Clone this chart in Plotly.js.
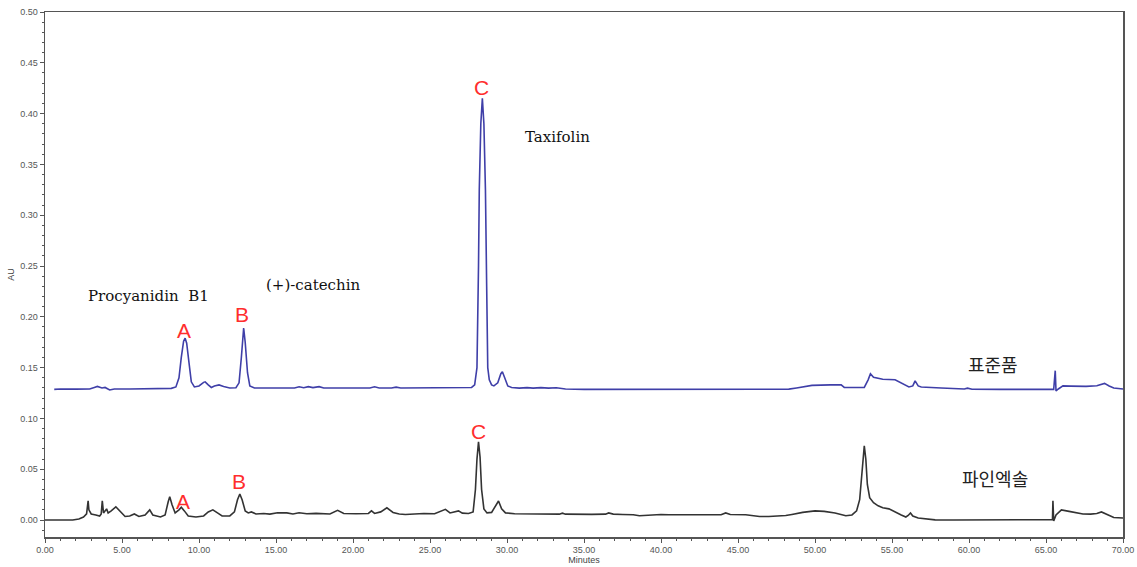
<!DOCTYPE html>
<html>
<head>
<meta charset="utf-8">
<script src="https://cdn.plot.ly/plotly-3.0.1.min.js"></script>
<style>
html,body{margin:0;padding:0;background:#fff;}
#chart{width:1137px;height:567px;}
</style>
</head>
<body>
<div id="chart"></div>
<script>
// 표준품 (standard) chromatogram: retention time (min) and absorbance (AU)
const stdTime = [0.6,1.0,2.0,2.9,3.2,3.4,3.7,3.9,4.2,4.5,5.5,6.5,7.5,8.2,8.5,8.7,8.85,9.0,9.1,9.2,9.35,9.5,9.7,10.0,10.3,10.4,10.6,10.8,11.0,11.3,11.6,12.0,12.4,12.6,12.75,12.9,13.0,13.15,13.3,13.6,14.5,15.5,16.2,16.5,16.8,17.1,17.4,17.8,18.1,19.0,20.0,21.1,21.4,21.7,22.5,22.8,23.1,24.5,25.5,26.5,27.3,27.7,27.9,28.05,28.15,28.2,28.3,28.4,28.5,28.6,28.68,28.75,28.85,29.0,29.15,29.4,29.6,29.7,29.85,30.05,30.3,30.8,31.3,31.7,32.2,32.7,33.2,33.8,35,40,45,48.3,48.8,49.3,49.8,51.0,51.7,51.9,53.2,53.45,53.6,53.8,54.4,55.2,55.6,56.1,56.35,56.5,56.7,56.9,58.2,59.7,59.9,60.2,62,65.5,65.6,65.65,65.8,66.1,66.6,67.6,68.3,68.8,69.1,69.4,70.0];
const stdAU = [0.1286,0.1290,0.1288,0.1290,0.1305,0.1315,0.1300,0.1305,0.1280,0.1290,0.1290,0.1292,0.1293,0.1296,0.1310,0.1400,0.1600,0.1760,0.1790,0.1740,0.1550,0.1360,0.1310,0.1320,0.1355,0.1360,0.1330,0.1305,0.1320,0.1330,0.1315,0.1300,0.1302,0.1350,0.1600,0.1890,0.1750,0.1450,0.1320,0.1300,0.1300,0.1302,0.1300,0.1312,0.1302,0.1313,0.1303,0.1313,0.1300,0.1300,0.1300,0.1300,0.1312,0.1300,0.1300,0.1308,0.1300,0.1300,0.1302,0.1300,0.1302,0.1305,0.1330,0.1500,0.2500,0.3250,0.3900,0.4150,0.3900,0.3250,0.2300,0.1500,0.1380,0.1330,0.1320,0.1350,0.1440,0.1460,0.1400,0.1320,0.1305,0.1298,0.1303,0.1298,0.1303,0.1298,0.1302,0.1290,0.1286,0.1286,0.1286,0.1288,0.1300,0.1310,0.1325,0.1330,0.1330,0.1305,0.1305,0.1380,0.1440,0.1405,0.1385,0.1380,0.1350,0.1310,0.1320,0.1370,0.1320,0.1310,0.1300,0.1290,0.1298,0.1287,0.1286,0.1286,0.1470,0.1270,0.1290,0.1320,0.1318,0.1315,0.1322,0.1345,0.1320,0.1300,0.1290];

// 파인엑솔 (pine extract) chromatogram
const pineTime = [0.0,1.0,1.8,2.2,2.5,2.7,2.8,2.85,3.0,3.3,3.55,3.65,3.72,3.8,3.9,4.0,4.1,4.3,4.6,4.9,5.2,5.5,5.8,6.1,6.5,6.8,7.0,7.5,7.8,8.0,8.1,8.25,8.45,8.7,8.85,9.05,9.3,9.8,10.3,10.6,10.9,11.2,11.5,12.0,12.3,12.5,12.65,12.8,13.0,13.2,13.4,13.7,14.2,14.6,15.1,15.7,16.1,16.5,17.0,17.6,18.0,18.5,19.0,19.4,20.2,21.0,21.2,21.4,21.8,22.2,22.6,23.0,23.4,24.0,24.6,25.3,25.8,26.0,26.3,26.6,26.85,27.1,27.5,27.8,27.95,28.05,28.15,28.25,28.35,28.5,28.7,29.0,29.25,29.45,29.65,29.9,30.5,31.5,32.5,33.4,33.6,33.8,35.5,36.4,36.6,36.9,37.5,38.2,38.6,39.0,39.4,40.0,40.5,41.5,43.0,43.9,44.2,44.5,45.5,46.0,46.4,47.0,47.6,48.1,48.5,49.2,50.0,50.6,51.3,51.7,52.0,52.4,52.7,52.9,53.05,53.2,53.3,53.4,53.55,53.8,54.1,54.4,54.8,55.15,55.6,55.9,56.05,56.2,56.35,56.7,57.3,57.8,59,61,63,65.3,65.42,65.45,65.5,65.65,66.0,66.5,67.0,67.4,67.9,68.3,68.6,68.9,69.4,70.0];
const pineAU = [0.0000,0.0000,0.0000,0.0010,0.0030,0.0060,0.0190,0.0100,0.0060,0.0050,0.0040,0.0060,0.0190,0.0070,0.0090,0.0110,0.0070,0.0090,0.0130,0.0080,0.0035,0.0040,0.0060,0.0035,0.0050,0.0100,0.0050,0.0030,0.0050,0.0180,0.0230,0.0150,0.0070,0.0100,0.0125,0.0090,0.0040,0.0030,0.0040,0.0080,0.0100,0.0070,0.0040,0.0040,0.0080,0.0200,0.0256,0.0200,0.0090,0.0070,0.0080,0.0060,0.0065,0.0058,0.0072,0.0070,0.0060,0.0072,0.0062,0.0066,0.0064,0.0060,0.0095,0.0065,0.0062,0.0065,0.0090,0.0065,0.0080,0.0120,0.0075,0.0060,0.0055,0.0060,0.0065,0.0062,0.0090,0.0105,0.0070,0.0085,0.0090,0.0068,0.0065,0.0080,0.0300,0.0600,0.0770,0.0620,0.0300,0.0110,0.0070,0.0075,0.0140,0.0187,0.0110,0.0070,0.0062,0.0060,0.0058,0.0058,0.0068,0.0058,0.0056,0.0058,0.0070,0.0058,0.0055,0.0052,0.0042,0.0045,0.0055,0.0055,0.0052,0.0050,0.0050,0.0052,0.0070,0.0055,0.0052,0.0040,0.0035,0.0035,0.0040,0.0045,0.0055,0.0075,0.0090,0.0085,0.0070,0.0050,0.0042,0.0050,0.0090,0.0200,0.0500,0.0730,0.0600,0.0350,0.0220,0.0170,0.0140,0.0120,0.0110,0.0080,0.0050,0.0030,0.0045,0.0070,0.0040,0.0020,0.0008,0.0002,0.0000,0.0000,0.0000,0.0000,0.0005,0.0190,-0.0010,0.0050,0.0100,0.0085,0.0070,0.0060,0.0058,0.0065,0.0080,0.0060,0.0025,0.0020];

const peakLetters = ["A", "B", "C"];
const compoundNames = ["Procyanidin\u00a0\u00a0B1", "(+)-catechin", "Taxifolin"];
const sampleNames = ["표준품", "파인엑솔"];

const tickFont = {family: "Liberation Sans, Arial, sans-serif", size: 9, color: "#555"};
const red = {family: "Liberation Sans, Arial, sans-serif", size: 21, color: "#ff2d2d"};
const serif = {family: "DejaVu Serif, Liberation Serif, serif", size: 15, color: "#111"};
const kr = {family: "Noto Sans CJK KR, sans-serif", size: 18, color: "#222"};

function ann(text, x, y, font) {
  return {text: text, x: x, y: y, xref: "x", yref: "y", showarrow: false,
          xanchor: "center", yanchor: "middle", font: font};
}

const data = [
  {x: stdTime, y: stdAU, type: "scatter", mode: "lines", name: sampleNames[0],
   line: {color: "#3f3fa8", width: 1.6}},
  {x: pineTime, y: pineAU, type: "scatter", mode: "lines", name: sampleNames[1],
   line: {color: "#333333", width: 1.6}}
];

const layout = {
  width: 1137, height: 567,
  margin: {l: 45, r: 14, t: 12, b: 30, pad: 0},
  paper_bgcolor: "#fff", plot_bgcolor: "#fff",
  showlegend: false,
  xaxis: {
    range: [0, 70], dtick: 5, tick0: 0, tickformat: ".2f",
    ticks: "outside", ticklen: 4, tickcolor: "#555", tickwidth: 1,
    minor: {dtick: 1, ticks: "outside", ticklen: 2, tickcolor: "#555"},
    showline: true, linecolor: "#555", linewidth: 1.5, mirror: true,
    showgrid: false, zeroline: false, tickfont: tickFont,
    title: {text: "Minutes", font: {family: "Liberation Sans, Arial, sans-serif", size: 9, color: "#444"}, standoff: 2}
  },
  yaxis: {
    range: [-0.0167, 0.5], dtick: 0.05, tick0: 0, tickformat: ".2f",
    ticks: "outside", ticklen: 4, tickcolor: "#555", tickwidth: 1,
    minor: {dtick: 0.01, ticks: "outside", ticklen: 2, tickcolor: "#555"},
    showline: true, linecolor: "#555", linewidth: 1.5, mirror: true,
    showgrid: false, zeroline: false, tickfont: tickFont,
    title: {text: "AU", font: {family: "Liberation Sans, Arial, sans-serif", size: 9, color: "#444"}, standoff: 4}
  },
  annotations: [
    ann(peakLetters[0], 9.0, 0.187, red),
    ann(peakLetters[1], 12.8, 0.202, red),
    ann(peakLetters[2], 28.32, 0.426, red),
    ann(peakLetters[0], 8.97, 0.018, red),
    ann(peakLetters[1], 12.58, 0.0384, red),
    ann(peakLetters[2], 28.17, 0.0869, red),
    ann(compoundNames[0], 6.75, 0.2208, serif),
    ann(compoundNames[1], 17.4, 0.2313, serif),
    ann(compoundNames[2], 33.26, 0.3773, serif),
    ann(sampleNames[0], 61.56, 0.1535, kr),
    ann(sampleNames[1], 61.66, 0.0413, kr)
  ]
};

Plotly.newPlot("chart", data, layout, {displayModeBar: false, staticPlot: true});
</script>
</body>
</html>
